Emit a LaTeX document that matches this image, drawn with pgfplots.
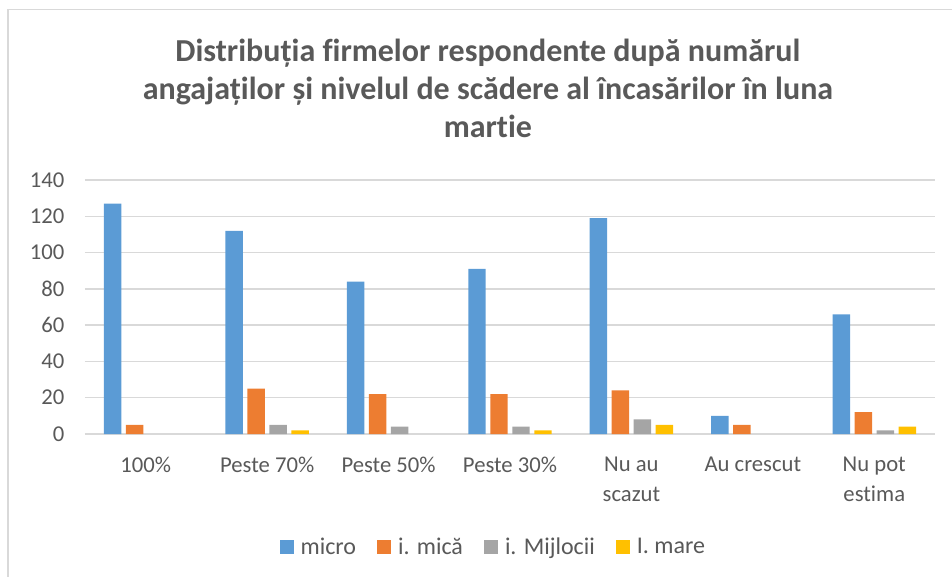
\documentclass[border=0pt]{standalone}
\usepackage{pgfplots}
\pgfplotsset{compat=1.18}
\usepackage{fontspec}
\setmainfont{Carlito}[RawFeature={-liga}]
\definecolor{cblue}{HTML}{5B9BD5}
\definecolor{corange}{HTML}{ED7D31}
\definecolor{cgray}{HTML}{A5A5A5}
\definecolor{cgold}{HTML}{FFC000}
\definecolor{tcol}{HTML}{595959}
\definecolor{gridc}{HTML}{D9D9D9}
\begin{document}
\begin{tikzpicture}
\path[use as bounding box] (-63.75pt,-107.25pt) rectangle (650.25pt,325.5pt);
\draw[color=gridc, line width=1.1pt] (-57.75pt,-107.25pt) -- (-57.75pt,318.4pt) -- (650.25pt,318.4pt);
\begin{axis}[
  at={(0,0)}, anchor=south west, scale only axis,
  width=637.5pt, height=190.5pt,
  ymin=0, ymax=140, ytick={0,20,...,140},
  xmin=-0.5, xmax=6.5, xtick={0,...,6},
  xticklabels={100\%, Peste 70\%, Peste 50\%, Peste 30\%, {Nu au\\scazut}, Au crescut, {Nu pot\\estima}},
  ybar=3.4pt, bar width=13.1pt,
  ymajorgrids, grid style={color=gridc, line width=1pt},
  axis line style={draw=none},
  major tick length=0pt, tick style={draw=none},
  ticklabel style={font=\fontsize{17}{23}\selectfont, text=tcol},
  xticklabel style={align=center, anchor=north, yshift=-13.5pt},
  yticklabel style={anchor=east, xshift=-12pt},
  /pgf/number format/assume math mode=true,
  title={Distribuția firmelor respondente după numărul\\angajaților și nivelul de scădere al încasărilor în luna\\martie},
  title style={at={(0.474,1.33)}, anchor=center, align=center, font=\bfseries\fontsize{24}{28.5}\selectfont, text=tcol},
  legend columns=4,
  legend style={at={(0.481,-0.445)}, anchor=center, draw=none, font=\fontsize{18}{20}\selectfont, text=tcol,
    /tikz/every odd column/.append style={column sep=3pt},
    /tikz/every even column/.append style={column sep=14pt}},
  legend image code/.code={\fill[#1] (0pt,-5.25pt) rectangle (10.5pt,5.25pt);},
]
\addplot[fill=cblue, draw=none] coordinates {(0,127) (1,112) (2,84) (3,91) (4,119) (5,10) (6,66)};
\addplot[fill=corange, draw=none] coordinates {(0,5) (1,25) (2,22) (3,22) (4,24) (5,5) (6,12)};
\addplot[fill=cgray, draw=none] coordinates {(1,5) (2,4) (3,4) (4,8) (6,2)};
\addplot[fill=cgold, draw=none] coordinates {(1,2) (3,2) (4,5) (6,4)};
\legend{micro, i. mică, i. Mijlocii, I. mare}
\end{axis}
\end{tikzpicture}
\end{document}
